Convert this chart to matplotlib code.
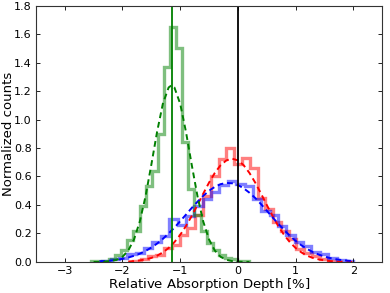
import numpy as np
import matplotlib
matplotlib.use('Agg')
import matplotlib.pyplot as plt

# histogram bin ranges (first edge, last edge) and normalized counts
green_range = (-2.55, 0.20)
green_counts = [0.01, 0.01, 0.01, 0.02, 0.05, 0.085, 0.155, 0.22, 0.39, 0.53,
                0.64, 0.90, 1.37, 1.65, 1.50, 0.84, 0.51, 0.33, 0.22, 0.13,
                0.085, 0.05, 0.03, 0.02, 0.01, 0.01]

red_range = (-1.82, 1.69)
red_counts = [0.01, 0.02, 0.04, 0.05, 0.10, 0.12, 0.19, 0.24, 0.33, 0.46,
              0.60, 0.72, 0.80, 0.69, 0.73, 0.66, 0.45, 0.37, 0.28, 0.22,
              0.16, 0.09, 0.06, 0.04, 0.02, 0.01]

blue_range = (-2.35, 2.00)
blue_counts = [0.01, 0.02, 0.03, 0.055, 0.06, 0.10, 0.14, 0.18, 0.30, 0.26,
               0.32, 0.39, 0.44, 0.49, 0.54, 0.565, 0.55, 0.53, 0.44, 0.36,
               0.33, 0.25, 0.19, 0.14, 0.11, 0.07, 0.055, 0.03, 0.015, 0.01]

# dashed fit curves
green_fit_x = [-2.5, -2.4, -2.3, -2.2, -2.1, -2.0, -1.9, -1.8, -1.7, -1.6, -1.5,
               -1.4, -1.3, -1.2, -1.15, -1.1, -1.0, -0.9, -0.8, -0.7, -0.6, -0.5,
               -0.4, -0.3, -0.2, -0.1, 0.0, 0.1, 0.2]
green_fit_y = [0.0, 0.0, 0.002, 0.006, 0.015, 0.036, 0.080, 0.158, 0.283, 0.461,
               0.682, 0.914, 1.111, 1.225, 1.24, 1.225, 1.111, 0.914, 0.682, 0.461,
               0.283, 0.158, 0.080, 0.036, 0.015, 0.006, 0.002, 0.0, 0.0]

red_fit_x = [-1.9, -1.8, -1.7, -1.6, -1.5, -1.4, -1.3, -1.2, -1.1, -1.0, -0.9,
             -0.8, -0.7, -0.6, -0.5, -0.4, -0.3, -0.2, -0.1, 0.0, 0.1, 0.2, 0.3,
             0.4, 0.5, 0.6, 0.7, 0.8, 0.9, 1.0, 1.1, 1.2, 1.3, 1.4, 1.5, 1.6,
             1.7, 1.8, 1.9, 2.0]
red_fit_y = [0.003, 0.006, 0.011, 0.018, 0.028, 0.044, 0.067, 0.098, 0.139, 0.190,
             0.252, 0.323, 0.400, 0.480, 0.557, 0.625, 0.679, 0.713, 0.725, 0.713,
             0.679, 0.625, 0.557, 0.480, 0.400, 0.323, 0.252, 0.190, 0.139, 0.098,
             0.067, 0.044, 0.028, 0.018, 0.011, 0.006, 0.003, 0.002, 0.001, 0.0005]

blue_fit_x = [-2.4, -2.3, -2.2, -2.1, -2.0, -1.9, -1.8, -1.7, -1.6, -1.5, -1.4,
              -1.3, -1.2, -1.1, -1.0, -0.9, -0.8, -0.7, -0.6, -0.5, -0.4, -0.3,
              -0.2, -0.1, 0.0, 0.1, 0.2, 0.3, 0.4, 0.5, 0.6, 0.7, 0.8, 0.9, 1.0,
              1.1, 1.2, 1.3, 1.4, 1.5, 1.6, 1.7, 1.8, 1.9, 2.0]
blue_fit_y = [0.005, 0.007, 0.010, 0.015, 0.022, 0.031, 0.043, 0.058, 0.077, 0.101,
              0.129, 0.162, 0.200, 0.241, 0.286, 0.332, 0.379, 0.423, 0.464, 0.500,
              0.527, 0.546, 0.555, 0.552, 0.540, 0.517, 0.486, 0.449, 0.406, 0.360,
              0.313, 0.268, 0.224, 0.184, 0.148, 0.117, 0.091, 0.069, 0.052, 0.038,
              0.027, 0.019, 0.013, 0.009, 0.006]

green_mean = -1.15
ref_depth = 0.0

fig = plt.figure(figsize=(3.9, 2.93), dpi=100)
ax = fig.add_axes([0.092, 0.106, 0.888, 0.875])

for rng, counts, col in [(red_range, red_counts, 'r'),
                         (blue_range, blue_counts, 'b'),
                         (green_range, green_counts, 'g')]:
    edges = np.linspace(rng[0], rng[1], len(counts) + 1)
    ax.stairs(counts, edges, color=col, alpha=0.5, lw=2.4, baseline=0)

ax.plot(red_fit_x, red_fit_y, '--', color='r', lw=1.4, dashes=(3, 2))
ax.plot(blue_fit_x, blue_fit_y, '--', color='b', lw=1.4, dashes=(3, 2))
ax.plot(green_fit_x, green_fit_y, '--', color='g', lw=1.4, dashes=(3, 2))

ax.axvline(green_mean, color='g', lw=1.3)
ax.axvline(ref_depth, color='k', lw=1.3)

ax.set_xlim(-3.5, 2.5)
ax.set_ylim(0, 1.8)
ax.set_xticks([-3, -2, -1, 0, 1, 2])
ax.set_yticks(np.arange(0, 1.81, 0.2))
ax.tick_params(direction='in', top=True, right=True, length=3, width=0.6,
               labelsize=8, pad=3)
for s in ax.spines.values():
    s.set_linewidth(0.8)
    s.set_color('#333333')

ax.set_xlabel(r'Relative Absorption Depth $[\%]$', fontsize=9.5)
ax.set_ylabel('Normalized counts', fontsize=9.5)
ax.xaxis.set_label_coords(0.5, -0.055)
ax.yaxis.set_label_coords(-0.06, 0.5)

fig.savefig('out.png', dpi=100)
